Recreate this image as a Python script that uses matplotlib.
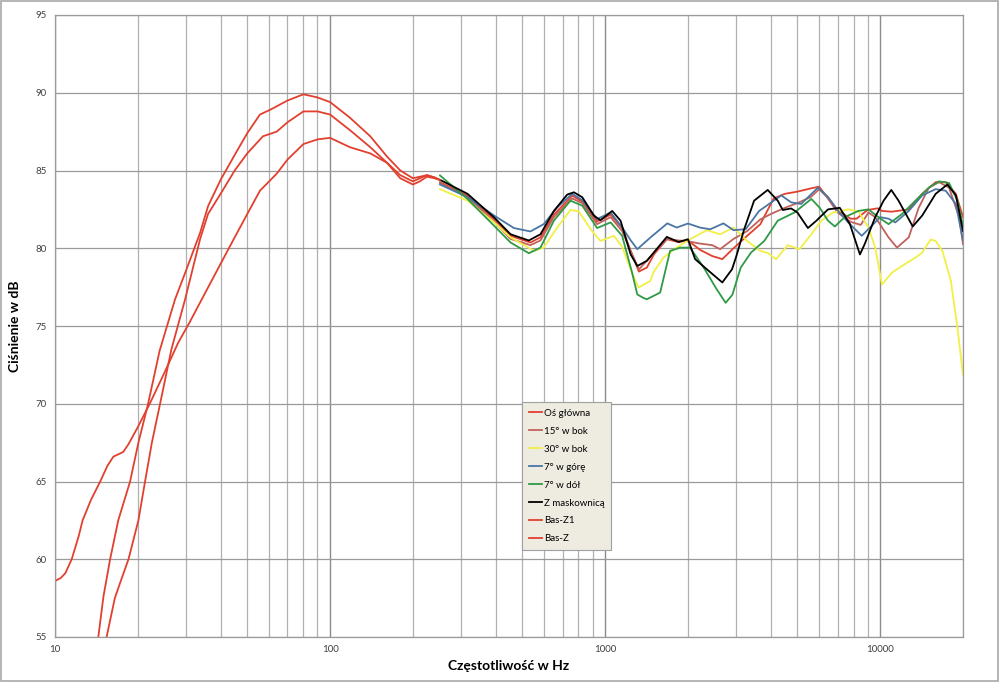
import matplotlib
matplotlib.use("Agg")
import matplotlib.pyplot as plt
from matplotlib.ticker import FixedLocator, NullFormatter
from matplotlib.patches import Rectangle

plt.rcParams['font.family'] = ['Lato', 'DejaVu Sans']

# --- bass curves (three red) ---
bas_top_f = [14.0, 14.37, 15.0, 15.86, 16.98, 18.75, 20.1, 21.8, 24.0, 27.3, 30.0, 33.7, 36.0, 40.0,
             45.0, 50.0, 55.6, 60.5, 70.0, 80.0, 90.0, 100.0, 118.0, 140.0, 161.0, 180.0, 200.0,
             212.0, 225.0, 240.0, 250.0]
bas_top_db = [53.0, 55.0, 57.6, 60.0, 62.5, 65.0, 67.5, 70.0, 73.4, 76.7, 78.6, 81.0, 82.7, 84.4,
              86.0, 87.4, 88.6, 88.9, 89.5, 89.9, 89.7, 89.4, 88.4, 87.2, 85.9, 85.0, 84.5,
              84.6, 84.7, 84.55, 84.4]

bas_mid_f = [15.1, 15.4, 16.5, 17.5, 18.5, 20.1, 21.25, 22.5, 24.1, 26.5, 29.7, 33.7, 36.0, 40.0,
             45.0, 50.0, 57.0, 64.0, 70.0, 80.0, 90.0, 100.0, 118.0, 140.0, 161.0, 180.0, 200.0,
             212.0, 225.0, 240.0, 250.0]
bas_mid_db = [53.0, 55.0, 57.5, 58.8, 60.0, 62.5, 65.0, 67.5, 70.0, 73.5, 76.7, 80.6, 82.2, 83.5,
              85.0, 86.1, 87.2, 87.5, 88.1, 88.8, 88.8, 88.6, 87.6, 86.5, 85.5, 84.7, 84.3,
              84.5, 84.7, 84.55, 84.4]

bas_low_f = [10.0, 10.5, 10.9, 11.5, 12.2, 12.6, 13.5, 14.6, 15.5, 16.3, 17.0, 17.7, 18.5, 20.0,
             22.1, 25.0, 28.0, 31.0, 34.6, 40.0, 45.0, 50.0, 55.6, 64.0, 70.0, 80.0, 90.0, 100.0,
             118.0, 140.0, 161.0, 180.0, 200.0, 212.0, 225.0, 240.0, 250.0]
bas_low_db = [58.6, 58.8, 59.1, 60.0, 61.5, 62.5, 63.8, 65.0, 66.0, 66.6, 66.75, 66.9, 67.4, 68.5,
              70.0, 72.0, 73.9, 75.3, 76.9, 79.0, 80.7, 82.2, 83.7, 84.8, 85.7, 86.7, 87.0, 87.1,
              86.5, 86.1, 85.5, 84.5, 84.1, 84.3, 84.6, 84.5, 84.4]

# --- mid/high curves ---
os_f = [251, 316, 395, 453, 535, 582, 651, 759, 826, 935, 1047, 1153, 1240, 1327, 1418, 1504, 1676,
        1848, 2000, 2213, 2450, 2667, 2930, 3283, 3664, 4100, 4500, 5000, 5600, 6000, 6400, 7000,
        7800, 8200, 9000, 9800, 10150, 11000, 12700, 14210, 15910, 17300, 18840, 20000]
os_db = [84.25, 83.38, 81.87, 80.8, 80.37, 80.7, 82.16, 83.38, 83.0, 81.72, 82.16, 81.3, 79.8, 78.5,
         78.76, 79.6, 80.58, 80.4, 80.5, 79.9, 79.5, 79.3, 80.0, 80.8, 81.54, 83.2, 83.5, 83.64,
         83.85, 83.96, 83.3, 82.46, 81.9, 81.9, 82.46, 82.57, 82.4, 82.35, 82.5, 83.5, 84.25, 84.25,
         83.5, 82.0]

bok15_f = [251, 316, 395, 453, 535, 582, 651, 759, 826, 935, 1047, 1153, 1240, 1327, 1504, 1683,
           1850, 2000, 2213, 2450, 2619, 2930, 3283, 3664, 4000, 4500, 5000, 5600, 6000, 6400, 7000,
           7800, 8500, 9060, 9600, 10720, 11510, 12700, 13800, 15030, 16370, 17790, 19370, 20000]
bok15_db = [84.2, 83.3, 81.7, 80.6, 80.2, 80.5, 82.0, 83.2, 82.9, 81.55, 82.0, 81.1, 79.8, 78.64,
            79.7, 80.6, 80.5, 80.45, 80.3, 80.2, 79.94, 80.6, 81.1, 81.85, 82.2, 82.6, 82.9, 83.3,
            83.8, 83.3, 82.3, 81.7, 81.5, 82.3, 82.0, 80.7, 80.04, 80.7, 82.6, 83.9, 84.25, 83.9,
            82.0, 80.26]

bok30_f = [251, 316, 395, 453, 551, 598, 670, 748, 803, 885, 962, 1076, 1153, 1240, 1322, 1459,
           1504, 1630, 1820, 2036, 2342, 2619, 2930, 3283, 3664, 3900, 4180, 4610, 5090, 5620, 6110,
           6740, 7650, 8330, 9060, 9590, 10150, 11040, 12000, 13430, 14210, 15250, 15910, 16830,
           18070, 19100, 20000]
bok30_db = [83.8, 83.06, 81.66, 80.7, 79.83, 80.04, 81.34, 82.46, 82.37, 81.23, 80.47, 80.8, 80.09,
            78.6, 77.47, 77.9, 78.5, 79.4, 80.04, 80.58, 81.16, 80.9, 81.33, 80.47, 79.83, 79.7,
            79.29, 80.2, 79.94, 80.9, 81.77, 82.3, 82.5, 82.37, 81.34, 80.04, 77.67, 78.43, 78.86,
            79.4, 79.72, 80.56, 80.47, 79.83, 77.9, 74.87, 71.85]

gora7_f = [251, 316, 395, 466, 535, 598, 670, 759, 826, 935, 1047, 1153, 1240, 1309, 1463, 1683,
           1820, 2000, 2213, 2410, 2692, 2930, 3245, 3630, 4370, 4745, 5160, 5940, 6460, 7030, 7650,
           8570, 9310, 10000, 10720, 11350, 12700, 14210, 15910, 17300, 18840, 20000]
gora7_db = [84.1, 83.28, 82.1, 81.3, 81.08, 81.55, 82.63, 83.5, 83.1, 81.87, 82.3, 81.34, 80.5,
            79.94, 80.7, 81.6, 81.33, 81.59, 81.33, 81.22, 81.6, 81.16, 81.23, 82.4, 83.4, 82.95,
            82.85, 83.9, 83.3, 82.4, 81.66, 80.8, 81.44, 82.0, 81.9, 81.66, 82.4, 83.4, 83.8, 83.7,
            82.85, 80.5]

dol7_f = [251, 316, 395, 453, 528, 582, 651, 748, 826, 935, 1047, 1153, 1250, 1309, 1380, 1418,
          1585, 1722, 1874, 2036, 2281, 2545, 2742, 2900, 3110, 3390, 3790, 4240, 4880, 5620, 6030,
          6460, 6840, 7430, 8330, 9060, 9860, 10720, 12000, 13430, 15030, 16370, 17790, 19100, 20000]
dol7_db = [84.68, 83.17, 81.44, 80.37, 79.68, 80.04, 81.77, 83.06, 82.74, 81.3, 81.66, 80.8, 78.5,
           77.03, 76.8, 76.72, 77.15, 79.83, 80.04, 80.04, 78.76, 77.36, 76.49, 77.0, 78.75, 79.72,
           80.47, 81.77, 82.3, 83.17, 82.6, 81.77, 81.4, 82.0, 82.4, 82.5, 82.0, 81.55, 82.2, 83.06,
           83.9, 84.3, 84.2, 83.06, 81.44]

mask_f = [251, 316, 395, 453, 528, 582, 651, 728, 770, 826, 910, 962, 1061, 1138, 1238, 1309, 1418,
          1676, 1848, 2000, 2124, 2342, 2667, 2893, 3000, 3200, 3480, 3900, 4240, 4425, 4745, 5000,
          5460, 5860, 6460, 7130, 7760, 8440, 8800, 9590, 10290, 10970, 11660, 13130, 14210, 15910,
          17550, 18840, 20000]
mask_db = [84.4, 83.5, 81.98, 80.9, 80.5, 80.9, 82.4, 83.45, 83.6, 83.28, 82.1, 81.8, 82.4, 81.77,
           79.6, 78.86, 79.19, 80.73, 80.4, 80.58, 79.3, 78.65, 77.8, 78.65, 79.5, 81.2, 83.06, 83.75,
           83.06, 82.46, 82.56, 82.3, 81.3, 81.77, 82.5, 82.6, 81.55, 79.6, 80.3, 82.0, 83.06, 83.75,
           83.06, 81.4, 82.1, 83.5, 84.1, 83.4, 81.1]

labels = ['Oś główna', '15° w bok', '30° w bok', '7° w górę', '7° w dół', 'Z maskownicą',
          'Bas-Z1', 'Bas-Z']

fig = plt.figure(figsize=(10, 6.82), dpi=100)
ax = fig.add_axes([0.055, 1 - 637 / 682, 0.908, 622 / 682])

lw = 1.3
ax.plot(os_f, os_db, color='#e2402f', lw=lw, label=labels[0])
ax.plot(bok15_f, bok15_db, color='#c0625b', lw=lw, label=labels[1])
ax.plot(bok30_f, bok30_db, color='#f2ef45', lw=lw, label=labels[2])
ax.plot(gora7_f, gora7_db, color='#4a76a4', lw=lw, label=labels[3])
ax.plot(dol7_f, dol7_db, color='#2f9a45', lw=lw, label=labels[4])
ax.plot(mask_f, mask_db, color='#000000', lw=lw, label=labels[5])
ax.plot(bas_mid_f, bas_mid_db, color='#e2402f', lw=lw, label=labels[6])
ax.plot(bas_low_f, bas_low_db, color='#e2402f', lw=lw, label=labels[7])
ax.plot(bas_top_f, bas_top_db, color='#e2402f', lw=lw, label='_nolegend_')

ax.set_xscale('log')
ax.set_xlim(10, 20000)
ax.set_ylim(55, 95)

major = [10, 100, 1000, 10000]
minor = [m * d for d in [10, 100, 1000] for m in range(2, 10)] + [20000]
ax.xaxis.set_major_locator(FixedLocator(major))
ax.set_xticklabels([str(v) for v in major])
ax.xaxis.set_minor_locator(FixedLocator(minor))
ax.xaxis.set_minor_formatter(NullFormatter())
ax.set_yticks(range(55, 96, 5))

ax.grid(True, which='major', axis='x', color='#8c8c8c', lw=1.0)
ax.grid(True, which='minor', axis='x', color='#b0b0b0', lw=0.9)
ax.grid(True, which='major', axis='y', color='#9a9a9a', lw=0.9)
ax.set_axisbelow(True)

for s in ax.spines.values():
    s.set_color('#9a9a9a')
    s.set_linewidth(0.9)
ax.tick_params(which='both', length=0, labelsize=7, colors='#404040', pad=6)

ax.set_xlabel('Częstotliwość w Hz', fontsize=10, fontweight='bold', labelpad=4)
ax.set_ylabel('Ciśnienie w dB', fontsize=10, fontweight='bold', labelpad=10)

leg = ax.legend(loc='upper left', bbox_to_anchor=((522 - 55) / 908, 1 - (402 - 15) / 622),
                fontsize=7, frameon=True, fancybox=False, handlelength=1.4, handletextpad=0.15,
                labelspacing=0.92, borderpad=0.7, borderaxespad=0)
leg.get_frame().set_facecolor('#eeece1')
leg.get_frame().set_edgecolor('#a0a0a0')
leg.get_frame().set_alpha(1)
leg.get_frame().set_linewidth(0.8)

fig.patches.append(Rectangle((0.001, 0.001), 0.997, 0.997, transform=fig.transFigure,
                             fill=False, edgecolor='#a8a8a8', lw=1.2))

fig.savefig('out.png', dpi=100)
